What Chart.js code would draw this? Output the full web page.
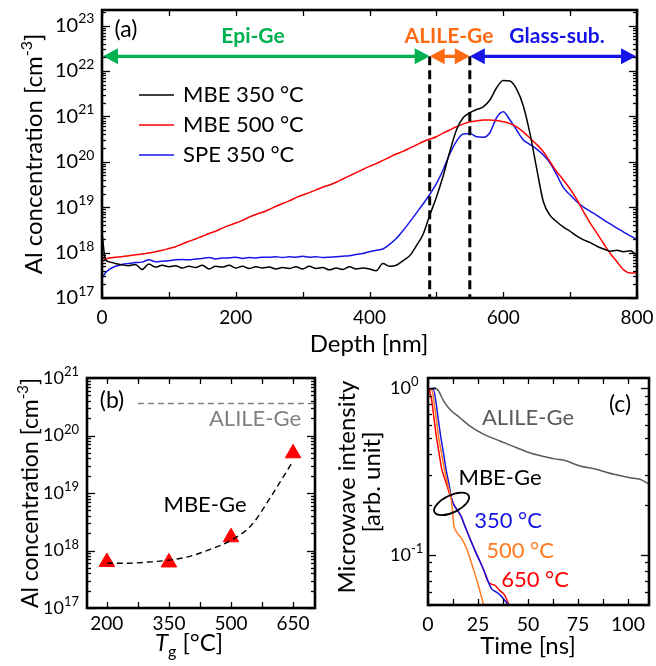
<!DOCTYPE html>
<html><head><meta charset="utf-8">
<script src="https://cdn.jsdelivr.net/npm/chart.js@4.4.1/dist/chart.umd.min.js"></script>
<style>
html,body{margin:0;padding:0;background:#fff;}
#wrap{position:relative;width:656px;height:666px;overflow:hidden;background:#fff;}
canvas{position:absolute;left:0;top:0;}
</style></head><body>
<div id="wrap">
<canvas id="ca" width="656" height="666"></canvas>
<canvas id="cb" width="656" height="666"></canvas>
<canvas id="cc" width="656" height="666"></canvas>
</div>
<script>
// ---------- Panel (a): SIMS depth profiles (values are log10 of Al concentration) ----------
const depthNm = [0,5,10,20,30,40,50,60,70,80,90,100,110,120,130,140,150,160,170,180,190,200,210,220,230,240,250,260,270,280,290,300,310,320,330,340,350,360,370,380,390,400,410,420,430,440,450,460,470,480,490,500,510,520,530,540,550,560,570,580,590,600,610,620,630,640,650,660,670,680,690,700,710,720,730,740,750,760,770,780,790,800];
const mbe350Log = [18.45,17.85,17.80,
17.76,17.73,17.71,17.74,17.63,17.75,17.68,17.72,17.69,
17.71,17.66,17.70,17.67,17.72,17.64,17.70,17.68,17.72,17.66,
17.70,17.65,17.69,17.66,17.68,17.64,17.67,17.65,17.69,17.64,
17.70,17.65,17.67,17.62,17.66,17.63,17.69,17.64,17.66,17.64,
17.60,17.76,17.70,17.72,17.82,17.93,18.15,18.40,18.82,19.22,
19.68,20.22,20.70,20.97,21.08,21.15,21.21,21.36,21.63,21.79,
21.78,21.60,21.23,20.62,19.85,19.12,18.82,18.68,18.56,18.47,
18.36,18.28,18.22,18.14,18.08,18.03,18.05,18.02,18.04,17.93];
const mbe500Log = [17.88,17.86,17.88,
17.90,17.91,17.93,17.95,17.97,17.99,18.02,18.05,18.09,
18.13,18.19,18.25,18.30,18.36,18.42,18.47,18.54,18.60,18.65,
18.71,18.78,18.84,18.89,18.95,19.02,19.08,19.14,19.21,19.27,
19.32,19.38,19.44,19.49,19.55,19.62,19.69,19.76,19.83,19.90,
19.96,20.03,20.10,20.17,20.23,20.30,20.37,20.44,20.50,20.55,
20.63,20.70,20.77,20.83,20.88,20.90,20.92,20.92,20.91,20.88,
20.84,20.77,20.66,20.52,20.38,20.22,20.00,19.78,19.60,19.40,
19.17,18.90,18.65,18.43,18.20,17.98,17.80,17.62,17.55,17.55];
const spe350Log = [17.45,17.55,17.62,
17.70,17.74,17.76,17.78,17.79,17.84,17.80,17.81,17.82,
17.84,17.85,17.84,17.86,17.87,17.89,17.86,17.88,17.88,17.90,
17.87,17.89,17.88,17.90,17.90,17.91,17.89,17.91,17.90,17.92,
17.90,17.91,17.89,17.90,17.91,17.92,17.93,17.96,17.98,18.02,
18.05,18.08,18.18,18.31,18.48,18.67,18.87,19.07,19.28,19.52,
19.82,20.17,20.45,20.61,20.62,20.55,20.54,20.64,20.97,21.10,
20.92,20.70,20.48,20.38,20.28,20.15,19.97,19.71,19.43,19.27,
19.12,19.00,18.91,18.82,18.72,18.63,18.54,18.45,18.37,18.29];
const seriesNamesA = ['MBE 350 °C','MBE 500 °C','SPE 350 °C'];
const regionBoundsNm = [0, 490, 550, 800];
const regionNames = ['Epi-Ge','ALILE-Ge','Glass-sub.'];
const regionArrowLevel = 2.1e22;
const depthTickLabels = [0,200,400,600,800];
const depthMinorTicks = [0,100,200,300,400,500,600,700,800];

// ---------- Panel (b): Al concentration vs growth temperature ----------
const growthTempC = [200,350,500,650];
const alConcMBE = [6.3e17,6.2e17,1.7e18,4.9e19];
const fitTempC = [200,250,300,350,400,450,500,550,600,650];
const fitConc = [6.0e17,6.0e17,6.3e17,6.8e17,7.9e17,1.05e18,1.5e18,2.8e18,9.5e18,3.6e19];
const alileLevel = 3.6e20;
const alileLineTemp = [275, 703];
const tempTickLabels = [200,350,500,650];
const tempMinorTicks = [200,275,350,425,500,575,650];

// ---------- Panel (c): microwave photoconductivity decay ----------
const tAlile = [1,3,5,8,11,16,21,28,36,44,52,59,64,68,76,84,88,93,101,106,110.5];
const iAlile = [0.99,1.0,0.97,0.83,0.745,0.664,0.592,0.528,0.482,0.44,0.405,0.386,0.375,0.369,0.341,0.326,0.316,0.304,0.29,0.284,0.265];
const t350 = [1,2.7,4,5.2,6.3,7.7,9,10.5,11.8,12.7,14.3,16.8,17.7,21,24.3,27.7,30.2,31.8,34,36,38,40];
const i350 = [0.98,0.98,0.82,0.64,0.518,0.41,0.327,0.265,0.218,0.202,0.188,0.168,0.157,0.125,0.101,0.082,0.0686,0.0625,0.06,0.0575,0.054,0.0505];
const t500 = [1,2,3,4.2,5.2,6.7,8.2,10,11.3,12.2,12.7,14.3,16.8,19.3,22.7,25.2,27.7];
const i500 = [0.97,0.97,0.82,0.65,0.518,0.41,0.327,0.26,0.226,0.188,0.157,0.137,0.125,0.109,0.082,0.0655,0.0505];
const t650 = [0.5,1.8,3,4,5.5,6.8,8,9.5,11,12,12.7,14.3,16.8,17.7,21,24.3,27.7,30.2,33.5,36,38.5,40.3];
const i650 = [0.99,0.85,0.66,0.53,0.41,0.33,0.295,0.26,0.228,0.214,0.202,0.188,0.168,0.157,0.125,0.101,0.082,0.0686,0.0655,0.061,0.057,0.0505];
const timeTickLabels = [0,25,50,75,100];
const timeMinorTicks = [0,12.5,25,37.5,50,62.5,75,87.5,100];

// ---------- styling ----------
const FONT = 'Lato, "Open Sans", sans-serif';
Chart.defaults.font.family = FONT;
Chart.defaults.color = '#000';
const W = 656, H = 666;

function xy(xs, ys, pow) { return xs.map((x, i) => ({x: x, y: pow ? Math.pow(10, ys[i]) : ys[i]})); }

function makeOptions(box, xc, yc) {
  return {
    responsive: false, animation: false, devicePixelRatio: 1, events: [],
    layout: {padding: {left: 0, top: box.t, right: W - box.r, bottom: 0}},
    plugins: {legend: {display: false}, tooltip: {enabled: false}},
    scales: {
      x: {type: 'linear', min: xc.min, max: xc.max,
        grid: {display: false, drawTicks: false}, border: {display: false},
        ticks: {font: {size: xc.fs, family: FONT}, color: '#000', padding: xc.pad, maxRotation: 0, autoSkip: false,
          callback: v => String(v)},
        afterBuildTicks: s => { s.ticks = xc.labels.map(v => ({value: v})); },
        afterFit: s => { s.height = H - box.b; s.paddingLeft = 0; s.paddingRight = 0; }
      },
      y: {type: 'logarithmic', min: yc.min, max: yc.max,
        grid: {display: false, drawTicks: false}, border: {display: false},
        ticks: {display: false},
        afterFit: s => { s.width = box.l; }
      }
    }
  };
}

function line(ctx, x0, y0, x1, y1) { ctx.beginPath(); ctx.moveTo(x0, y0); ctx.lineTo(x1, y1); ctx.stroke(); }

function frameAndTicks(chart, xTicks, majLen, minLen, xLen) {
  const ctx = chart.ctx, a = chart.chartArea, xs = chart.scales.x, ys = chart.scales.y;
  ctx.save();
  ctx.strokeStyle = '#000'; ctx.lineWidth = 1.3; ctx.setLineDash([]);
  const lo = Math.floor(Math.log10(ys.min)), hi = Math.ceil(Math.log10(ys.max));
  for (let e = lo; e <= hi; e++) {
    for (let k = 1; k <= 9; k++) {
      const v = k * Math.pow(10, e);
      if (v < ys.min * 0.999 || v > ys.max * 1.001) continue;
      const py = Math.round(ys.getPixelForValue(v)) + 0.5;
      const len = k === 1 ? majLen : minLen;
      line(ctx, a.left, py, a.left + len, py);
      line(ctx, a.right, py, a.right - len, py);
    }
  }
  xTicks.forEach(v => {
    const px = Math.round(xs.getPixelForValue(v)) + 0.5;
    line(ctx, px, a.bottom, px, a.bottom - xLen);
    line(ctx, px, a.top, px, a.top + xLen);
  });
  ctx.lineWidth = 2.6;
  ctx.strokeRect(a.left, a.top, a.right - a.left, a.bottom - a.top);
  ctx.restore();
}

function powLabel(ctx, x, y, exp, fs, sfs) {
  ctx.save();
  ctx.fillStyle = '#000'; ctx.textAlign = 'left'; ctx.textBaseline = 'middle';
  ctx.font = fs + 'px ' + FONT;
  ctx.fillText('10', x, y);
  const w = ctx.measureText('10').width;
  ctx.font = sfs + 'px ' + FONT;
  ctx.fillText(exp, x + w, y - fs * 0.33);
  ctx.restore();
}

function text(ctx, s, x, y, size, color, o) {
  o = o || {};
  ctx.save();
  ctx.font = (o.bold ? 'bold ' : '') + size + 'px ' + FONT;
  ctx.fillStyle = color; ctx.textAlign = o.align || 'center'; ctx.textBaseline = 'middle';
  ctx.fillText(s, x, y);
  ctx.restore();
}

// segs: {t, size, dy, italic}
function rich(ctx, segs, x, y, rot, mainSize) {
  ctx.save();
  ctx.translate(x, y); ctx.rotate(rot || 0);
  ctx.fillStyle = '#000'; ctx.textAlign = 'left'; ctx.textBaseline = 'alphabetic';
  const fontOf = s => (s.italic ? 'italic ' : '') + s.size + 'px ' + FONT;
  let tot = 0;
  const ws = segs.map(s => { ctx.font = fontOf(s); const w = ctx.measureText(s.t).width; tot += w; return w; });
  let cx = -tot / 2;
  const base = mainSize * 0.36;
  segs.forEach((s, i) => { ctx.font = fontOf(s); ctx.fillText(s.t, cx, base + (s.dy || 0)); cx += ws[i]; });
  ctx.restore();
}

function arrowBoth(ctx, x0, x1, y, col) {
  const hl = 15, hw = 8;
  ctx.save();
  ctx.strokeStyle = col; ctx.fillStyle = col; ctx.lineWidth = 3.3; ctx.setLineDash([]);
  line(ctx, x0 + hl - 1, y, x1 - hl + 1, y);
  ctx.beginPath(); ctx.moveTo(x0, y); ctx.lineTo(x0 + hl, y - hw); ctx.lineTo(x0 + hl, y + hw); ctx.closePath(); ctx.fill();
  ctx.beginPath(); ctx.moveTo(x1, y); ctx.lineTo(x1 - hl, y - hw); ctx.lineTo(x1 - hl, y + hw); ctx.closePath(); ctx.fill();
  ctx.restore();
}

const GREEN = '#00B050', ORANGE = '#FF6A13', BLUE = '#1515E8', RED = '#FF0000';

// ---------- Chart (a) ----------
const boxA = {l: 102, r: 637, t: 10, b: 298};
const pluginA = {
  id: 'panelA',
  afterDraw(chart) {
    const ctx = chart.ctx, a = chart.chartArea, xs = chart.scales.x, ys = chart.scales.y;
    const yArr = ys.getPixelForValue(regionArrowLevel);
    const px = regionBoundsNm.map(d => xs.getPixelForValue(d));
    ctx.save();
    ctx.strokeStyle = '#000'; ctx.lineWidth = 3; ctx.setLineDash([9, 5]);
    line(ctx, px[1], yArr, px[1], a.bottom);
    line(ctx, px[2], yArr, px[2], a.bottom);
    ctx.restore();
    arrowBoth(ctx, px[0] + 1, px[1], yArr, GREEN);
    arrowBoth(ctx, px[1], px[2], yArr, ORANGE);
    arrowBoth(ctx, px[2], px[3] - 1, yArr, BLUE);
    text(ctx, regionNames[0], 253, 36, 21, GREEN, {bold: true});
    text(ctx, regionNames[1], 449, 36, 21, ORANGE, {bold: true});
    text(ctx, regionNames[2], 557, 36, 21, BLUE, {bold: true});
    frameAndTicks(chart, depthMinorTicks, 8, 4, 6);
    for (let e = 17; e <= 23; e++) powLabel(ctx, 55, ys.getPixelForValue(Math.pow(10, e)), String(e), 20, 14);
    const cols = ['#000', RED, BLUE];
    const ly = [95, 125, 155];
    ctx.save();
    cols.forEach((c, i) => {
      ctx.strokeStyle = c; ctx.lineWidth = 1.5; line(ctx, 139, ly[i], 174, ly[i]);
      text(ctx, seriesNamesA[i], 183, ly[i], 22, '#000', {align: 'left'});
    });
    ctx.restore();
    text(ctx, '(a)', 126, 30, 23, '#000');
    rich(ctx, [{t: 'Al concentration [cm', size: 24}, {t: '-3', size: 16, dy: -10}, {t: ']', size: 24}], 33, 154, -Math.PI / 2, 24);
    rich(ctx, [{t: 'Depth [nm]', size: 24}], 369, 343, 0, 24);
  }
};
new Chart(document.getElementById('ca'), {
  type: 'line',
  data: {datasets: [
    {data: xy(depthNm, mbe350Log, true), borderColor: '#000', borderWidth: 1.5, pointRadius: 0, cubicInterpolationMode: 'monotone'},
    {data: xy(depthNm, mbe500Log, true), borderColor: RED, borderWidth: 1.5, pointRadius: 0, cubicInterpolationMode: 'monotone'},
    {data: xy(depthNm, spe350Log, true), borderColor: BLUE, borderWidth: 1.5, pointRadius: 0, cubicInterpolationMode: 'monotone'}
  ]},
  options: makeOptions(boxA, {min: 0, max: 800, fs: 19, pad: 8, labels: depthTickLabels}, {min: 1e17, max: 2.2e23}),
  plugins: [pluginA]
});

// ---------- Chart (b) ----------
const boxB = {l: 87, r: 315, t: 378, b: 608};
const pluginB = {
  id: 'panelB',
  beforeDatasetsDraw(chart) {
    const ctx = chart.ctx, xs = chart.scales.x, ys = chart.scales.y;
    const y = ys.getPixelForValue(alileLevel);
    ctx.save();
    ctx.strokeStyle = '#808080'; ctx.lineWidth = 1.3; ctx.setLineDash([6, 4]);
    line(ctx, xs.getPixelForValue(alileLineTemp[0]), y, xs.getPixelForValue(alileLineTemp[1]), y);
    ctx.restore();
  },
  afterDraw(chart) {
    const ctx = chart.ctx, ys = chart.scales.y;
    frameAndTicks(chart, tempMinorTicks, 8, 4, 6);
    for (let e = 17; e <= 21; e++) powLabel(ctx, 43, ys.getPixelForValue(Math.pow(10, e)), String(e), 18, 13);
    text(ctx, '(b)', 112, 401, 23, '#000');
    text(ctx, 'ALILE-Ge', 255, 419, 22, '#808080');
    text(ctx, 'MBE-Ge', 205, 505, 22, '#000');
    rich(ctx, [{t: 'Al concentration [cm', size: 23}, {t: '-3', size: 15, dy: -10}, {t: ']', size: 23}], 30, 493, -Math.PI / 2, 23);
    rich(ctx, [{t: 'T', size: 24, italic: true}, {t: 'g', size: 16, dy: 6}, {t: ' [°C]', size: 24}], 189, 642, 0, 24);
  }
};
new Chart(document.getElementById('cb'), {
  type: 'line',
  data: {datasets: [
    {data: xy(fitTempC, fitConc, false), borderColor: '#000', borderWidth: 1.4, borderDash: [6, 4], pointRadius: 0, cubicInterpolationMode: 'monotone'},
    {data: xy(growthTempC, alConcMBE, false), showLine: false, pointStyle: 'triangle', pointRadius: 9, backgroundColor: RED, borderColor: RED, borderWidth: 1}
  ]},
  options: makeOptions(boxB, {min: 152, max: 703, fs: 19, pad: 4, labels: tempTickLabels}, {min: 1e17, max: 1e21}),
  plugins: [pluginB]
});

// ---------- Chart (c) ----------
const boxC = {l: 428, r: 649, t: 378, b: 605};
const ORANGE_C = '#FF7A1F';
const pluginC = {
  id: 'panelC',
  afterDraw(chart) {
    const ctx = chart.ctx, xs = chart.scales.x, ys = chart.scales.y;
    frameAndTicks(chart, timeMinorTicks, 8, 4, 6);
    powLabel(ctx, 390, ys.getPixelForValue(1), '0', 18, 13);
    powLabel(ctx, 390, ys.getPixelForValue(0.1), '-1', 18, 13);
    ctx.save();
    ctx.strokeStyle = '#000'; ctx.lineWidth = 1.8;
    ctx.beginPath();
    ctx.ellipse(xs.getPixelForValue(11.8), ys.getPixelForValue(0.202), 19, 8.5, -0.45, 0, Math.PI * 2);
    ctx.stroke();
    ctx.restore();
    text(ctx, 'ALILE-Ge', 528, 418, 22, '#595959');
    text(ctx, 'MBE-Ge', 500, 478, 22, '#000');
    text(ctx, '350 °C', 508, 521, 22, BLUE);
    text(ctx, '500 °C', 520, 551, 22, ORANGE_C);
    text(ctx, '650 °C', 535, 580, 22, RED);
    text(ctx, '(c)', 620, 405, 23, '#000');
    rich(ctx, [{t: 'Microwave intensity', size: 24}], 346, 487, -Math.PI / 2, 24);
    rich(ctx, [{t: '[arb. unit]', size: 24}], 371, 482, -Math.PI / 2, 24);
    rich(ctx, [{t: 'Time [ns]', size: 24}], 528, 645, 0, 24);
  }
};
new Chart(document.getElementById('cc'), {
  type: 'line',
  data: {datasets: [
    {data: xy(tAlile, iAlile, false), borderColor: '#595959', borderWidth: 1.5, pointRadius: 0, cubicInterpolationMode: 'monotone'},
    {data: xy(t500, i500, false), borderColor: ORANGE_C, borderWidth: 1.5, pointRadius: 0, cubicInterpolationMode: 'monotone'},
    {data: xy(t350, i350, false), borderColor: BLUE, borderWidth: 1.5, pointRadius: 0, cubicInterpolationMode: 'monotone'},
    {data: xy(t650, i650, false), borderColor: RED, borderWidth: 1.5, pointRadius: 0, cubicInterpolationMode: 'monotone'}
  ]},
  options: makeOptions(boxC, {min: 0, max: 110.5, fs: 19.5, pad: 8, labels: timeTickLabels}, {min: 0.05, max: 1.15}),
  plugins: [pluginC]
});
</script>
</body></html>
